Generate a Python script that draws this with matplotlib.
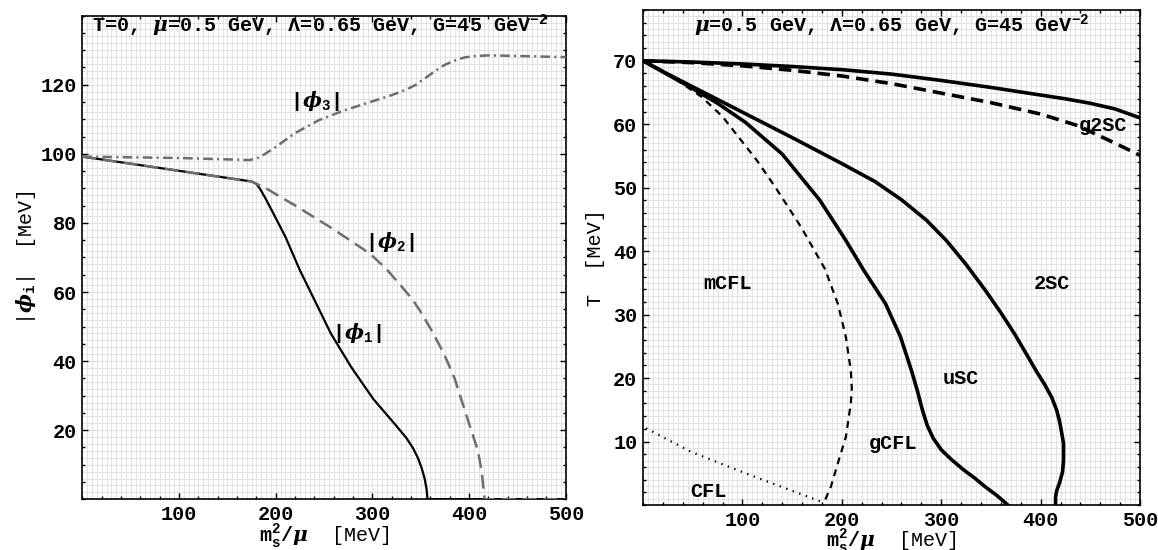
# Gap parameters at T=0 and phase diagram in the (m_s^2/mu, T) plane
import numpy as np
import matplotlib.pyplot as plt
from matplotlib.ticker import MultipleLocator, FixedLocator

plt.rcParams['font.family'] = ['Liberation Mono', 'DejaVu Sans']
plt.rcParams['font.weight'] = 'bold'
plt.rcParams['mathtext.fontset'] = 'custom'
plt.rcParams['mathtext.rm'] = 'Liberation Mono:bold'
plt.rcParams['mathtext.bf'] = 'Liberation Mono:bold'
plt.rcParams['mathtext.it'] = 'DejaVu Serif:italic'
plt.rcParams['lines.scale_dashes'] = False

FS = 14.5
GRAY = '#6e6e6e'

# ---- left panel: |phi_i| vs m_s^2/mu at T=0 ----
phi1_x = [0, 175, 180, 184, 190, 198, 210, 225, 242, 257, 278, 301, 324, 335, 342, 347,
          351, 354, 356, 357, 500]
phi1_y = [99.2, 92.0, 91.3, 89.8, 86.8, 82.5, 76.0, 66.3, 56.6, 48.0, 38.3, 29.0, 21.5,
          17.8, 14.8, 12.0, 9.0, 6.0, 3.0, 0, 0]

phi2_x = [0, 175, 190, 221, 259, 298, 315, 332, 341, 349, 362, 374, 385, 393, 401, 409,
          413, 416, 500]
phi2_y = [99.2, 92.0, 90.0, 84.9, 78.3, 71.0, 66.5, 61.0, 58.0, 54.7, 48.5, 42.1, 35.0,
          28.0, 21.0, 14.2, 8.0, 0, 0]

phi3_x = [0, 100, 150, 172, 180, 188, 200, 220, 245, 270, 300, 320, 335, 345, 355, 365,
          375, 385, 395, 405, 420, 440, 500]
phi3_y = [99.2, 98.8, 98.4, 98.2, 98.6, 99.8, 102.0, 106.0, 109.8, 112.5, 115.2, 117.0,
          118.6, 120.0, 122.0, 124.0, 125.8, 127.0, 127.9, 128.3, 128.5, 128.4, 128.0]

# ---- right panel: phase boundaries (m_s^2/mu, T) ----
top_solid_x = [0, 50, 100, 150, 200, 250, 300, 350, 400, 425, 450, 475, 500]
top_solid_T = [70.0, 69.8, 69.5, 69.1, 68.6, 67.9, 66.9, 65.8, 64.6, 64.0, 63.3, 62.4, 61.0]

top_dash_x = [0, 50, 100, 150, 200, 250, 300, 350, 400, 437, 475, 500]
top_dash_T = [70.0, 69.7, 69.2, 68.5, 67.6, 66.4, 64.9, 63.4, 61.6, 59.8, 57.0, 55.1]

usc_x = [0, 25, 50, 100, 150, 200, 233, 260, 285, 305, 325, 344, 360, 374, 386, 396, 404,
         411, 416, 419, 421, 423, 423, 422, 419, 416, 415, 415]
usc_T = [70.0, 67.9, 65.9, 61.9, 57.9, 53.8, 51.0, 48.1, 44.9, 41.7, 37.9, 33.9, 30.3,
         26.9, 23.7, 21.0, 19.0, 17.0, 15.0, 13.2, 11.5, 9.7, 7.0, 5.2, 3.5, 2.2, 1.2, 0]

gcfl_x = [0, 25, 48, 75, 103, 140, 178, 204, 222, 244, 259, 270, 276, 281, 286, 292, 300,
          310, 322, 334, 344, 356, 367]
gcfl_T = [70.0, 67.8, 65.8, 63.3, 60.3, 55.3, 48.0, 41.7, 37.0, 31.7, 26.5, 21.2, 18.0,
          15.0, 12.5, 10.5, 8.7, 7.2, 5.6, 4.2, 2.9, 1.5, 0]

mcfl_x = [0, 30, 59, 80, 96, 115, 133, 159, 183, 196, 204, 209, 210, 209, 204, 196, 189,
          181]
mcfl_T = [70.0, 67.4, 64.3, 61.2, 58.0, 54.2, 50.1, 43.8, 37.2, 31.7, 26.5, 21.2, 18.5,
          16.0, 10.7, 6.6, 2.9, 0]

cfl_x = [3, 48, 103, 178]
cfl_T = [12.1, 8.4, 5.0, 0.6]

phase_names = ['mCFL', '2SC', 'uSC', 'gCFL', 'CFL', 'g2SC']
phase_x = [85, 411, 320, 251, 66, 463]
phase_T = [34.9, 34.9, 19.9, 9.7, 2.1, 59.8]

fig = plt.figure(figsize=(11.58, 5.5), dpi=100)
ax1 = fig.add_axes([0.0711, 0.0922, 0.4175, 0.8793])
ax2 = fig.add_axes([0.5553, 0.0818, 0.4292, 0.9000])


def style_axes(ax, xmax, ymax, ymaj, ymin_step, ygrid):
    ax.set_xlim(0, xmax)
    ax.set_ylim(0, ymax)
    for g in np.arange(5, xmax, 5):
        ax.axvline(g, color='#e2e2e2', lw=0.8, zorder=0)
    for g in np.arange(ygrid, ymax, ygrid):
        ax.axhline(g, color='#e2e2e2', lw=0.8, zorder=0)
    ax.xaxis.set_major_locator(FixedLocator(np.arange(100, xmax + 1, 100)))
    ax.xaxis.set_minor_locator(MultipleLocator(20))
    ax.yaxis.set_major_locator(FixedLocator(np.arange(ymaj, ymax, ymaj)))
    ax.yaxis.set_minor_locator(MultipleLocator(ymin_step))
    ax.tick_params(which='both', direction='in', top=True, right=True,
                   labelsize=FS, width=1.0)
    ax.tick_params(which='major', length=4, pad=4)
    ax.tick_params(which='minor', length=2)
    for s in ax.spines.values():
        s.set_linewidth(1.2)


style_axes(ax1, 500, 140, 20, 5, 2)
style_axes(ax2, 500, 78, 10, 2, 1)

# left panel curves
ax1.plot(phi1_x, phi1_y, color='black', lw=1.6, zorder=3)
ax1.plot(phi2_x, phi2_y, color=GRAY, lw=1.8, dashes=(10, 5), zorder=4)
ax1.plot(phi3_x, phi3_y, color=GRAY, lw=1.8, dashes=(7, 3, 1.5, 3), zorder=4)

ax1.text(10, 137, r'T=0, $\mu$=0.5 GeV, Λ=0.65 GeV, G=45 GeV$^{-2}$',
         fontsize=FS, ha='left', va='center')
ax1.text(240, 115.4, r'|$\phi_3$|', fontsize=FS, ha='center', va='center')
ax1.text(318, 74.5, r'|$\phi_2$|', fontsize=FS, ha='center', va='center')
ax1.text(284, 48, r'|$\phi_1$|', fontsize=FS, ha='center', va='center')
ax1.set_xlabel(r'$\mathrm{m_s^2}/\mu$  [MeV]', fontsize=FS, labelpad=-0.5)
ax1.set_ylabel(r'|$\phi_\mathrm{i}$|  [MeV]', fontsize=FS, labelpad=2)

# right panel curves
ax2.plot(top_solid_x, top_solid_T, color='black', lw=2.6, zorder=3)
ax2.plot(top_dash_x, top_dash_T, color='black', lw=2.6, dashes=(9, 5), zorder=3)
ax2.plot(usc_x, usc_T, color='black', lw=2.6, zorder=3)
ax2.plot(gcfl_x, gcfl_T, color='black', lw=2.6, zorder=3)
ax2.plot(mcfl_x, mcfl_T, color='black', lw=1.6, dashes=(5, 4), zorder=3)
ax2.plot(cfl_x, cfl_T, color='black', lw=1.6, dashes=(1, 4), zorder=3)

ax2.text(250, 75.5, r'$\mu$=0.5 GeV, Λ=0.65 GeV, G=45 GeV$^{-2}$',
         fontsize=FS, ha='center', va='center')
for name, px, pt in zip(phase_names, phase_x, phase_T):
    ax2.text(px, pt, name, fontsize=FS, ha='center', va='center')
ax2.set_xlabel(r'$\mathrm{m_s^2}/\mu$  [MeV]', fontsize=FS, labelpad=-1.5)
ax2.set_ylabel('T  [MeV]', fontsize=FS, labelpad=6)

fig.savefig('out.png', dpi=100)
